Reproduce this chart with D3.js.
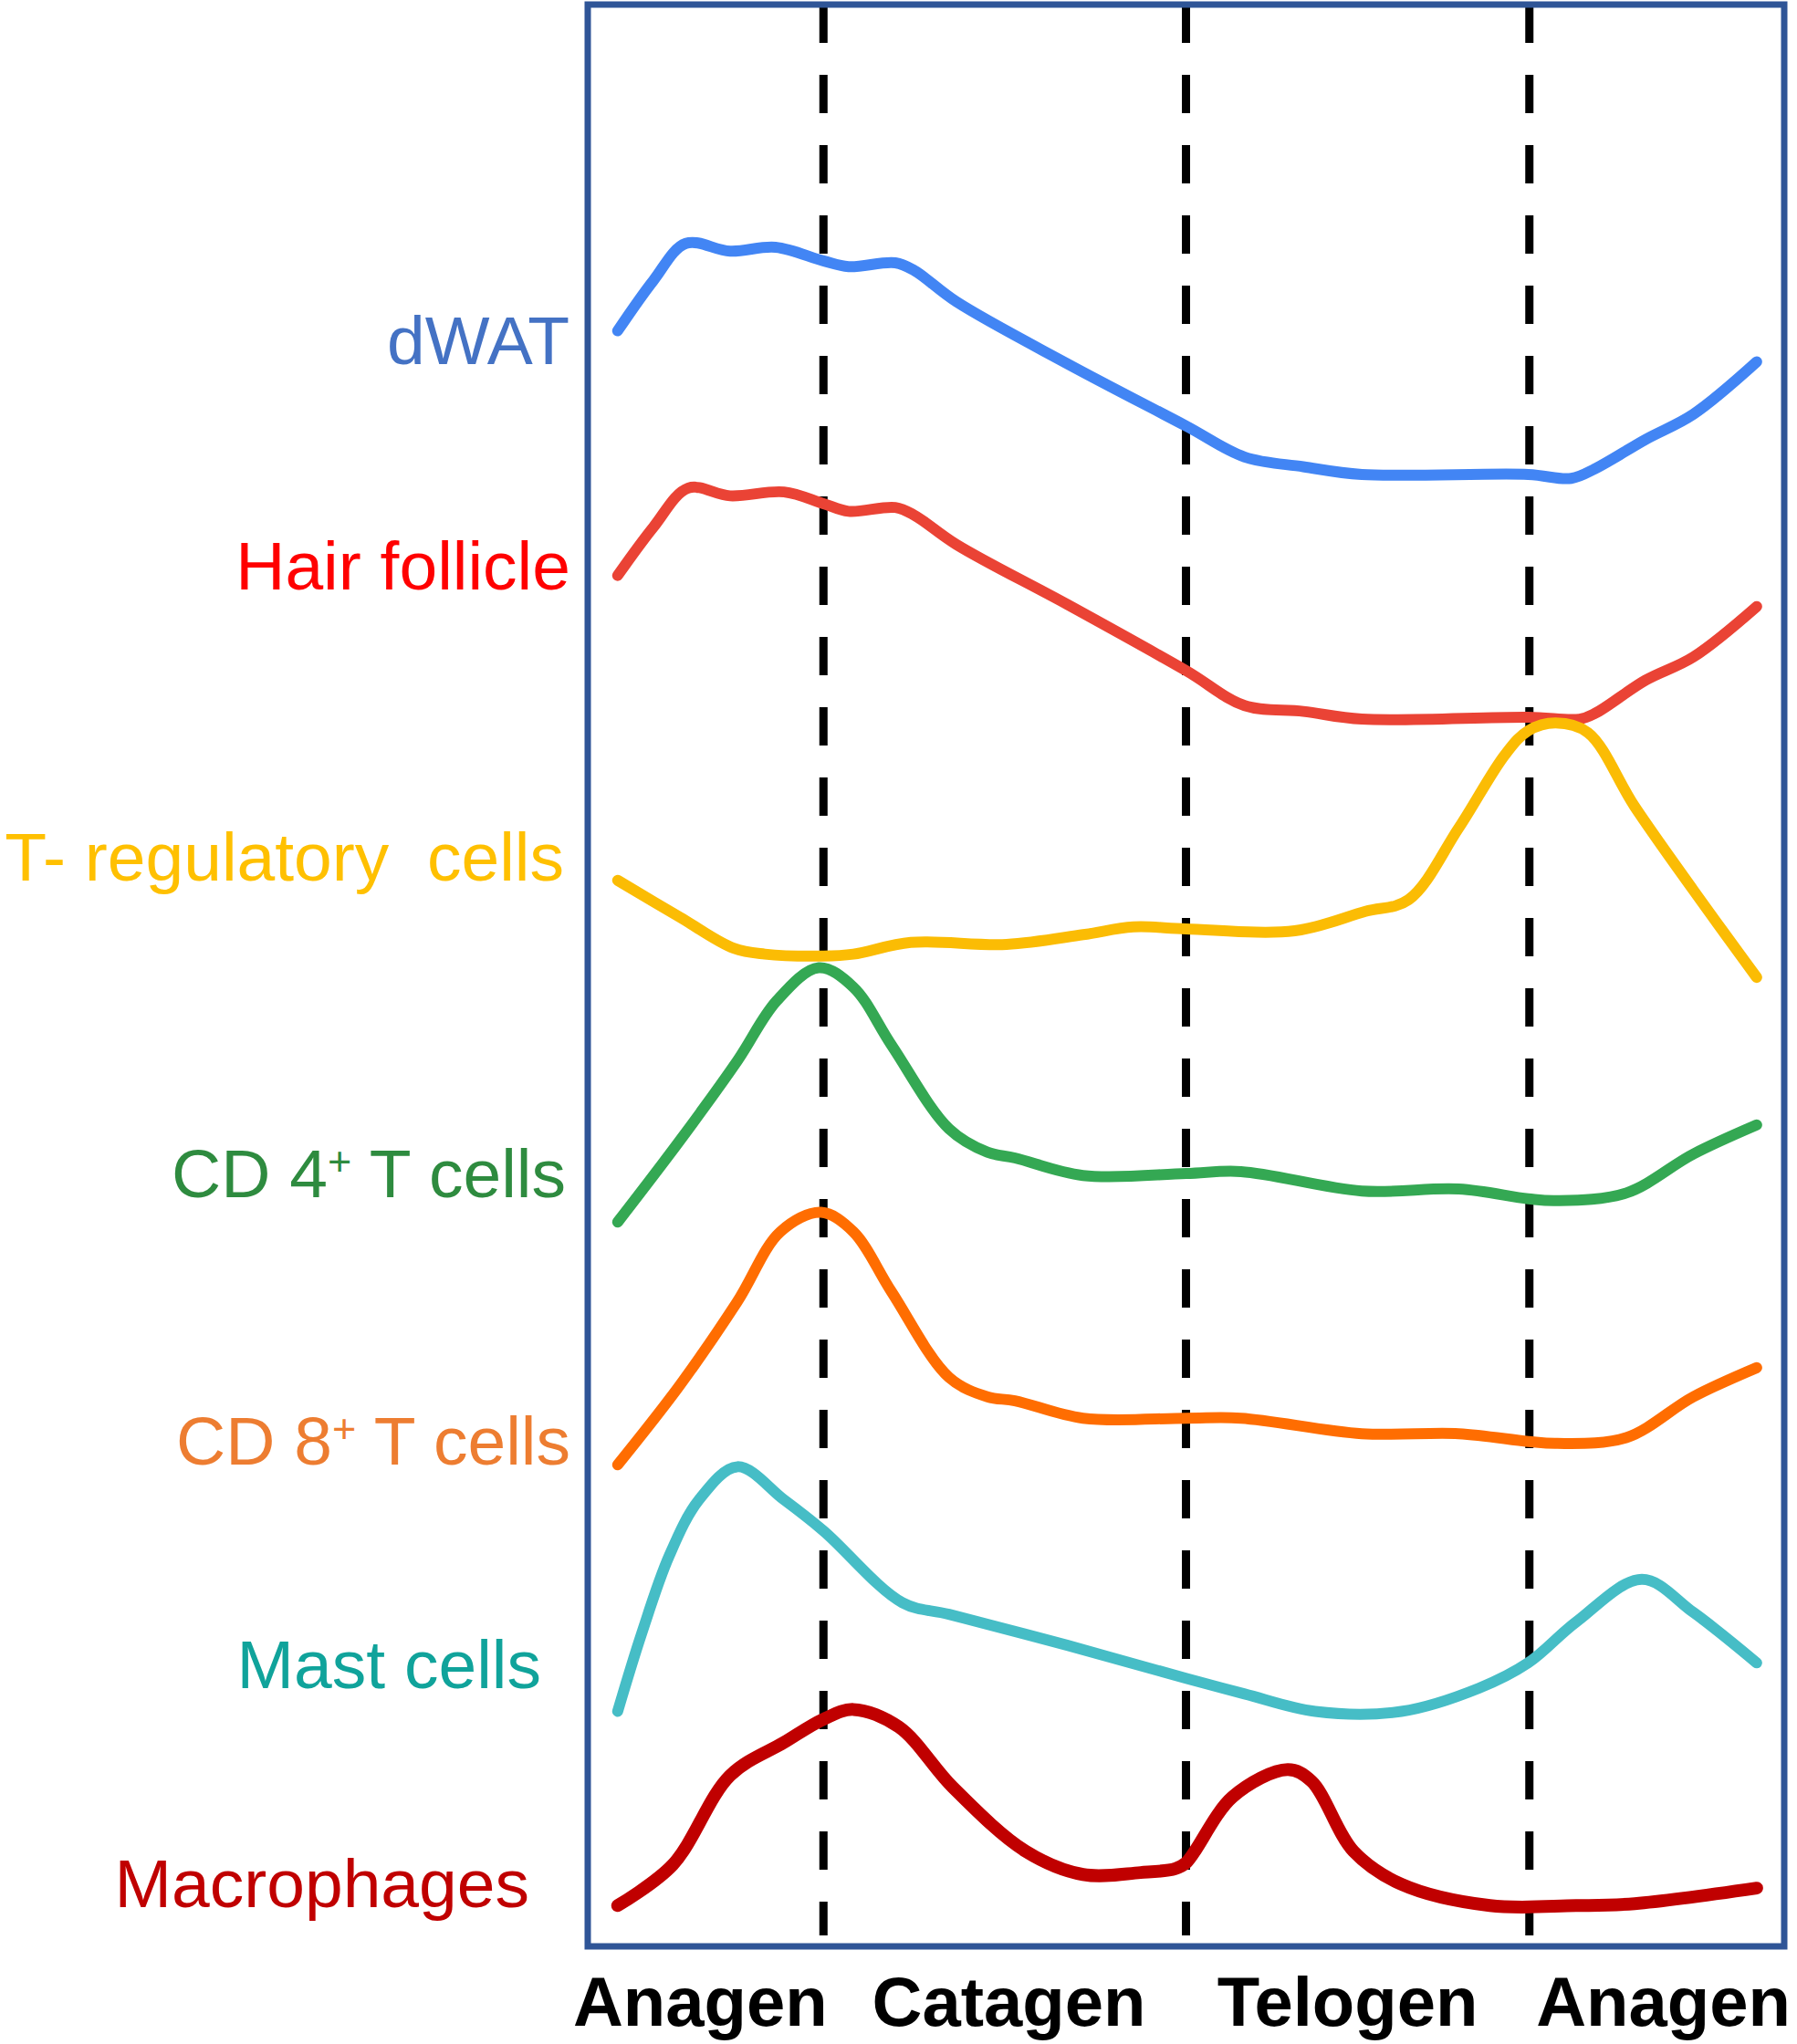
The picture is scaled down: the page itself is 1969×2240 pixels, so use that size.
<!DOCTYPE html>
<html>
<head>
<meta charset="utf-8">
<script src="https://cdn.jsdelivr.net/npm/d3@7"></script>
<style>
  body { margin: 0; background: #fff; }
  svg { display: block; }
</style>
</head>
<body>
<div id="dataviz"></div>
<script>
// hair cycle phases, x runs 0..100 across the frame
const stages = ["Anagen", "Catagen", "Telogen", "Anagen"];
const stageBounds = [0, 19.7, 50, 78.7, 100];
const stageCenters = [9.4, 35.2, 63.5, 89.9];   // where each phase name sits

// relative level (0 = frame bottom, 100 = frame top)
const dwat = [[2.5,83.2],[5.5,85.8],[8.2,87.7],[11.9,87.3],[15.7,87.5],[19.7,86.8],[21.8,86.5],[25.7,86.7],[27.3,86.3],[30.8,84.7],[40.1,81.5],[50,78.3],[54.9,76.7],[59.8,76.2],[64.7,75.8],[78.6,75.8],[82.2,75.6],[84.2,76.1],[88.4,77.6],[92.4,78.9],[97.7,81.6]];
const hairFollicle = [[2.5,70.6],[5.5,73.1],[8.4,75.1],[11.9,74.7],[16.4,74.9],[19.7,74.3],[21.8,73.9],[25.7,74.1],[27.3,73.7],[30.8,72.2],[40.1,69.1],[50,65.7],[54.9,63.9],[59.8,63.6],[64.7,63.2],[78.6,63.3],[82.9,63.2],[84.2,63.5],[88.4,65.2],[92.4,66.4],[97.7,69.0]];
const tRegs = [[2.5,54.9],[7.7,53.0],[12.2,51.4],[14.8,51.1],[19.7,51.0],[22.2,51.1],[27.0,51.7],[35.0,51.6],[41.4,52.1],[45.6,52.5],[50,52.4],[59.1,52.3],[65.0,53.3],[68.6,53.9],[72.8,57.6],[76.7,61.4],[78.6,62.6],[80.9,63.0],[83.6,62.5],[87.5,58.7],[92.4,54.4],[97.7,49.9]];
const cd4 = [[2.5,37.3],[7.7,41.5],[12.5,45.6],[15.8,48.7],[19.3,50.4],[22.2,49.4],[25.4,46.4],[30.2,42.1],[33.4,40.9],[35.7,40.6],[41.4,39.7],[50,39.8],[54.6,39.9],[64.7,38.9],[72.8,39.0],[78.6,38.5],[80.9,38.4],[86.8,38.8],[92.4,40.8],[97.7,42.3]];
const cd8 = [[2.5,24.8],[7.7,28.9],[12.5,33.2],[16.1,36.8],[19.5,37.8],[22.2,36.8],[25.4,33.7],[30.2,29.3],[33.4,28.3],[35.7,28.1],[41.4,27.2],[50,27.2],[54.6,27.2],[64.7,26.4],[72.8,26.4],[78.6,26.0],[80.9,25.9],[86.8,26.2],[92.4,28.3],[97.7,29.8]];
const mastCells = [[2.5,12.1],[4.5,16.1],[6.8,20.1],[9.3,23.0],[12.5,24.7],[16.4,23.0],[19.7,21.4],[26.3,17.7],[30.2,17.1],[40.1,15.5],[50,13.8],[54.9,13.0],[60.8,12.1],[68.0,12.1],[74.5,13.3],[78.6,14.6],[82.6,16.7],[88.1,18.9],[92.4,17.2],[97.7,14.6]];
const macrophages = [[2.5,2.1],[7.1,4.2],[11.9,8.8],[16.4,10.5],[19.7,11.7],[22.2,12.2],[26.0,11.3],[30.5,8.2],[36.6,4.9],[41.4,3.7],[46.2,3.8],[49.1,4.0],[50,4.3],[53.9,7.7],[58.5,9.1],[60.5,8.5],[64.0,4.9],[68.0,3.2],[75.4,2.1],[82.6,2.1],[87.5,2.2],[97.7,3.0]];

// label text: [before superscript, superscript, after]
const seriesNames = [
  ["dWAT", "", ""],
  ["Hair follicle", "", ""],
  ["T- regulatory  cells", "", ""],
  ["CD 4", "+", " T cells"],
  ["CD 8", "+", " T cells"],
  ["Mast cells", "", ""],
  ["Macrophages", "", ""]
];
const labelLevels = [81.5, 69.9, 54.9, 38.6, 24.8, 13.3, 2.0];

const seriesData = [dwat, hairFollicle, tRegs, cd4, cd8, mastCells, macrophages];

// styling
const lineColors  = ["#4285F4", "#EA4335", "#FBBC04", "#34A853", "#FF6D01", "#46BDC6", "#C00000"];
const labelColors = ["#4472C4", "#FF0000", "#FFC000", "#2E8B3F", "#ED7D31", "#10A39B", "#C00000"];
const labelGap    = [20, 19, 26, 24, 19, 51, 64];   // px between label end and frame

const W = 1969, H = 2240;
const frame = {left: 644, right: 1955, top: 5, bottom: 2133};

const svg = d3.select("#dataviz")
  .append("svg")
  .attr("width", W)
  .attr("height", H);

const x = d3.scaleLinear().domain([0, 100]).range([frame.left, frame.right]);
const y = d3.scaleLinear().domain([0, 100]).range([frame.bottom, frame.top]);

// phase separators
svg.selectAll("line.phase")
  .data(stageBounds.slice(1, -1))
  .join("line")
    .attr("class", "phase")
    .attr("x1", d => x(d))
    .attr("x2", d => x(d))
    .attr("y1", y(100))
    .attr("y2", y(0) - 12)
    .attr("stroke", "#000")
    .attr("stroke-width", 9)
    .attr("stroke-dasharray", "42,35");

// curves
const line = d3.line()
  .x(d => x(d[0]))
  .y(d => y(d[1]))
  .curve(d3.curveCatmullRom.alpha(0.5));

svg.selectAll("path.curve")
  .data(seriesData)
  .join("path")
    .attr("class", "curve")
    .attr("d", line)
    .attr("fill", "none")
    .attr("stroke", (d, i) => lineColors[i])
    .attr("stroke-width", (d, i) => i === 6 ? 14 : 12)
    .attr("stroke-linecap", "round")
    .attr("stroke-linejoin", "round");

// frame on top of the curves
svg.append("rect")
  .attr("x", frame.left)
  .attr("y", frame.top)
  .attr("width", frame.right - frame.left)
  .attr("height", frame.bottom - frame.top)
  .attr("fill", "none")
  .attr("stroke", "#2F5597")
  .attr("stroke-width", 7);

// series labels on the left
const labels = svg.selectAll("text.series")
  .data(seriesNames)
  .join("text")
    .attr("class", "series")
    .attr("x", (d, i) => frame.left - labelGap[i])
    .attr("y", (d, i) => y(labelLevels[i]))
    .attr("text-anchor", "end")
    .attr("font-family", "'Liberation Sans', Arial, sans-serif")
    .attr("font-size", 75)
    .attr("fill", (d, i) => labelColors[i])
    .style("white-space", "pre");

labels.append("tspan").text(d => d[0]);
labels.filter(d => d[1] !== "")
  .append("tspan")
    .attr("font-size", 45)
    .attr("dy", -24)
    .text(d => d[1]);
labels.filter(d => d[2] !== "")
  .append("tspan")
    .attr("dy", 24)
    .text(d => d[2]);

// phase names under the frame
svg.selectAll("text.stage")
  .data(stages)
  .join("text")
    .attr("class", "stage")
    .attr("x", (d, i) => x(stageCenters[i]))
    .attr("y", 2220)
    .attr("text-anchor", "middle")
    .attr("font-family", "'Liberation Sans', Arial, sans-serif")
    .attr("font-weight", "bold")
    .attr("font-size", 76)
    .attr("fill", "#000")
    .text(d => d);
</script>
</body>
</html>
